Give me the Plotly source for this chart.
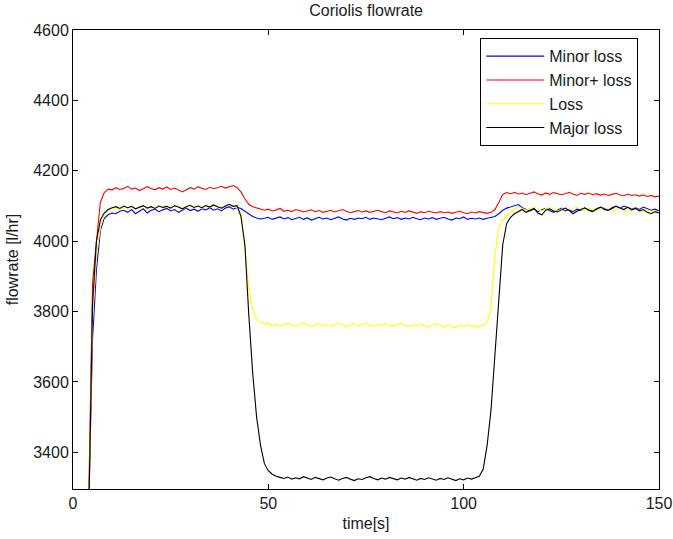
import plotly.graph_objects as go

time_s = list(range(4, 151))

minor_loss = [
    3230, 3720, 3918, 4030, 4065, 4075, 4080, 4078, 4085, 4088,
    4082, 4090, 4078, 4086, 4092, 4080, 4088, 4091, 4084, 4089,
    4093, 4086, 4090, 4082, 4088, 4094, 4087, 4091, 4085, 4092,
    4089, 4095, 4088, 4092, 4086, 4094, 4098, 4091, 4096, 4093,
    4085, 4078, 4070, 4066, 4063, 4065, 4068, 4062, 4066, 4069,
    4063, 4067, 4061, 4065, 4068, 4062, 4066, 4060, 4064, 4068,
    4063, 4066, 4061, 4065, 4069, 4063, 4060, 4065, 4062, 4066,
    4064, 4068, 4062, 4066, 4063, 4061, 4065, 4069, 4064, 4067,
    4062, 4066, 4063, 4068, 4064, 4061, 4066, 4063, 4067, 4062,
    4065, 4068, 4063, 4060, 4066, 4064, 4069, 4062, 4065, 4063,
    4066, 4062, 4065, 4068, 4070, 4078, 4088, 4094, 4098, 4102,
    4104, 4095, 4090, 4086, 4092, 4084, 4089, 4093, 4087, 4082,
    4088, 4094, 4086, 4090, 4084, 4091, 4088, 4094, 4089, 4085,
    4092, 4096, 4090, 4087, 4093, 4099, 4094, 4100, 4096, 4091,
    4095, 4090, 4097, 4093, 4088, 4091, 4086,
]

minor_plus_loss = [
    3250, 3880, 4000, 4110, 4138, 4148, 4146, 4152, 4147, 4150,
    4156, 4148, 4151, 4144, 4149, 4155, 4150, 4146, 4152, 4148,
    4154, 4147, 4151, 4145, 4140, 4146, 4152, 4148, 4155, 4150,
    4147, 4153, 4149, 4152, 4156, 4151, 4155, 4158, 4152, 4140,
    4120, 4105, 4098, 4094, 4092, 4088, 4091, 4086, 4089, 4093,
    4085, 4088, 4084, 4090, 4087, 4083, 4086, 4089, 4084, 4087,
    4082, 4085, 4088, 4083, 4086, 4090, 4085, 4081, 4084, 4087,
    4083, 4086, 4082, 4085, 4088, 4084, 4081, 4086, 4083, 4080,
    4085, 4082, 4086, 4083, 4079, 4084, 4081, 4085, 4082, 4080,
    4084, 4081, 4083, 4079, 4082, 4085, 4081, 4078, 4083, 4080,
    4084, 4081, 4079, 4082, 4090, 4110, 4133, 4138, 4135, 4139,
    4134, 4137, 4132, 4136, 4140, 4135, 4131, 4137, 4133, 4138,
    4136, 4132, 4135, 4139, 4134, 4130, 4136, 4133, 4137, 4132,
    4135, 4131, 4134, 4130, 4133, 4136, 4131, 4129, 4134, 4130,
    4132, 4128, 4131, 4127, 4130, 4126, 4128,
]

loss = [
    3220, 3780, 3960, 4040, 4075, 4088, 4092, 4095, 4090, 4097,
    4093, 4098, 4091, 4096, 4100, 4094, 4097, 4092, 4099, 4095,
    4098, 4093, 4100, 4096, 4091, 4097, 4101, 4095, 4099, 4094,
    4100, 4096, 4102, 4097, 4093, 4099, 4104, 4098, 4096, 4080,
    3980, 3870, 3805, 3778, 3768, 3764, 3768, 3760, 3765, 3758,
    3763, 3767, 3761, 3758, 3764, 3769, 3762, 3757, 3763, 3766,
    3760, 3764, 3758, 3763, 3767, 3761, 3757, 3762, 3766, 3759,
    3763, 3768, 3761, 3757, 3764, 3760, 3766, 3762, 3758, 3763,
    3767, 3761, 3757, 3763, 3759, 3765, 3761, 3756, 3762, 3766,
    3760, 3756, 3763, 3759, 3754, 3761, 3757, 3763, 3758, 3760,
    3756, 3762, 3770, 3810, 3960, 4040, 4060, 4072, 4082, 4090,
    4098, 4094, 4088, 4093, 4097, 4090, 4086, 4092, 4096, 4089,
    4085, 4091, 4095, 4088, 4093, 4097, 4091, 4087, 4094, 4090,
    4086, 4092, 4096, 4089, 4084, 4090, 4094, 4088, 4083, 4089,
    4093, 4087, 4082, 4088, 4084, 4080, 4085,
]

major_loss = [
    3200, 3820, 4000, 4060, 4080, 4090, 4095, 4098, 4093, 4100,
    4095, 4099, 4092, 4097, 4101, 4094, 4098, 4093, 4100, 4096,
    4099, 4094, 4101, 4097, 4092, 4098, 4102, 4096, 4100, 4095,
    4101, 4097, 4103, 4098, 4094, 4100, 4105, 4099, 4101, 4070,
    3990, 3790, 3625, 3500, 3420, 3368, 3348, 3338, 3332, 3329,
    3326, 3330, 3324, 3328, 3325, 3331, 3327, 3323, 3329, 3326,
    3322, 3327, 3330, 3325, 3321, 3326, 3329, 3324, 3320, 3325,
    3323, 3328, 3331, 3326, 3322, 3327, 3324, 3329, 3325, 3322,
    3327, 3324, 3329, 3325, 3321, 3326, 3323, 3328, 3324, 3321,
    3326, 3323, 3328, 3324, 3320, 3325, 3322, 3327, 3324, 3328,
    3332, 3352, 3420, 3520, 3680, 3860, 3990, 4050, 4068, 4078,
    4085, 4090, 4082, 4087, 4093, 4080, 4075, 4088, 4092, 4086,
    4083, 4089, 4094, 4087, 4078, 4085, 4090, 4095, 4088, 4084,
    4091, 4097, 4092, 4088, 4095, 4100, 4094, 4090, 4097, 4089,
    4093, 4086, 4090, 4082, 4078, 4084, 4080,
]

series_names = ["Minor loss", "Minor+ loss", "Loss", "Major loss"]
series_values = [minor_loss, minor_plus_loss, loss, major_loss]
series_colors = ["#0000FF", "#FF0000", "#FFFF00", "#000000"]

x_ticks = [0, 50, 100, 150]
y_ticks = [3400, 3600, 3800, 4000, 4200, 4400, 4600]

FONT = "Liberation Sans, Arial"
TXT = "#1a1a1a"

fig = go.Figure()
for name, vals, col in zip(series_names, series_values, series_colors):
    fig.add_trace(go.Scatter(x=time_s, y=vals, mode="lines", name=name,
                             line=dict(color=col, width=1.1)))

axis_common = dict(showgrid=False, zeroline=False, showline=True, linecolor="black",
                   linewidth=1, mirror="ticks", ticks="inside", ticklen=5,
                   tickcolor="black", tickfont=dict(family=FONT, size=16, color=TXT))

fig.update_layout(
    width=673, height=539,
    margin=dict(l=73, r=14, t=30, b=50),
    paper_bgcolor="white", plot_bgcolor="white",
    font=dict(family=FONT, size=16, color=TXT),
    title=dict(text="Coriolis flowrate", x=0.544, xref="container", xanchor="center",
               y=0.981, yanchor="middle", font=dict(family=FONT, size=16, color=TXT)),
    xaxis=dict(range=[0, 150], tickvals=x_ticks, ticklabeloverflow="allow", automargin=False,
               title=dict(text="time[s]", standoff=6, font=dict(family=FONT, size=16, color=TXT)),
               **axis_common),
    yaxis=dict(range=[3296, 4600], tickvals=y_ticks,
               title=dict(text="flowrate [l/hr]", standoff=10, font=dict(family=FONT, size=16, color=TXT)),
               **axis_common),
    legend=dict(x=0.695, y=0.982, xanchor="left", yanchor="top",
                bgcolor="white", bordercolor="black", borderwidth=1,
                font=dict(family=FONT, size=16, color=TXT), tracegroupgap=0,
                itemwidth=58),
    showlegend=True,
)

fig.write_html("out.html")
